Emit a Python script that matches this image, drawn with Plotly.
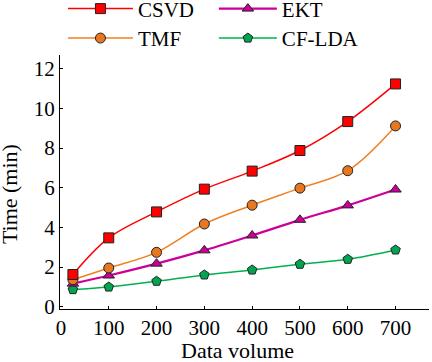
import plotly.graph_objects as go

x_vals = [25, 100, 200, 300, 400, 500, 600, 700]
csvd = [1.62, 3.47, 4.78, 5.93, 6.84, 7.88, 9.34, 11.24]
tmf = [1.36, 1.95, 2.74, 4.17, 5.12, 5.98, 6.86, 9.12]
ekt = [1.16, 1.57, 2.17, 2.84, 3.59, 4.38, 5.11, 5.91]
cflda = [0.86, 0.99, 1.28, 1.60, 1.85, 2.14, 2.39, 2.86]

x_ticks = [0, 100, 200, 300, 400, 500, 600, 700]
y_ticks = [0, 2, 4, 6, 8, 10, 12]

FONT = "Liberation Serif"
FS = 21

fig = go.Figure()

# name, values, line colour, marker colour, symbol, marker size, line width, legend id
series = [
    ("CF-LDA", cflda, "#00b050", "#00a550", "pentagon", 10, 1.5, "legend4"),
    ("EKT", ekt, "#cc0099", "#cc0099", "triangle-up", 10, 2.2, "legend2"),
    ("TMF", tmf, "#f08020", "#e87722", "circle", 10, 1.5, "legend3"),
    ("CSVD", csvd, "#ff0000", "#ff0000", "square", 10, 1.5, "legend"),
]

for name, ys, lc, mc, sym, ms, lw, lg in series:
    fig.add_trace(go.Scatter(
        x=x_vals, y=ys, name=name, mode="lines+markers",
        line=dict(color=lc, width=lw, shape="spline", smoothing=1.0),
        marker=dict(symbol=sym, size=ms, color=mc, line=dict(color="#222222", width=1)),
        legend=lg,
    ))

leg_common = dict(
    orientation="h", font=dict(family=FONT, size=FS, color="black"),
    bgcolor="rgba(0,0,0,0)", xref="paper", yref="paper",
    xanchor="left", yanchor="top",
)

row1_y = 1.262
row2_y = 1.146
col1_x = 0.008
col2_x = 0.417

fig.update_layout(
    width=432, height=362,
    margin=dict(l=60, r=3, t=55, b=53, autoexpand=False),
    paper_bgcolor="white", plot_bgcolor="white",
    font=dict(family=FONT, size=FS, color="black"),
    showlegend=True,
    legend=dict(x=col1_x, y=row1_y, itemwidth=65, **leg_common),
    legend2=dict(x=col2_x, y=row1_y, itemwidth=58, **leg_common),
    legend3=dict(x=col1_x, y=row2_y, itemwidth=65, **leg_common),
    legend4=dict(x=col2_x, y=row2_y, itemwidth=58, **leg_common),
    xaxis=dict(
        range=[-2, 770], tickvals=x_ticks, ticks="inside", ticklen=3,
        tickcolor="black", showline=True, linecolor="black", linewidth=1,
        showgrid=False, zeroline=False, mirror=False, automargin=False,
        tickfont=dict(family=FONT, size=FS),
    ),
    yaxis=dict(
        range=[-0.12, 12.7], tickvals=y_ticks, ticks="inside", ticklen=3,
        tickcolor="black", showline=True, linecolor="black", linewidth=1,
        showgrid=False, zeroline=False, mirror=False, automargin=False,
        tickfont=dict(family=FONT, size=FS),
    ),
    annotations=[
        dict(text="Data volume", xref="paper", yref="paper", x=0.482, y=-0.163,
             xanchor="center", yanchor="middle", showarrow=False,
             font=dict(family=FONT, size=22, color="black")),
        dict(text="Time (min)", xref="paper", yref="paper", x=-0.135, y=0.453,
             xanchor="center", yanchor="middle", showarrow=False, textangle=-90,
             font=dict(family=FONT, size=22, color="black")),
    ],
)

fig.write_html(
    "out.html",
    config={"displayModeBar": False},
    post_script="document.body.style.margin='0';document.body.style.padding='0';",
)
